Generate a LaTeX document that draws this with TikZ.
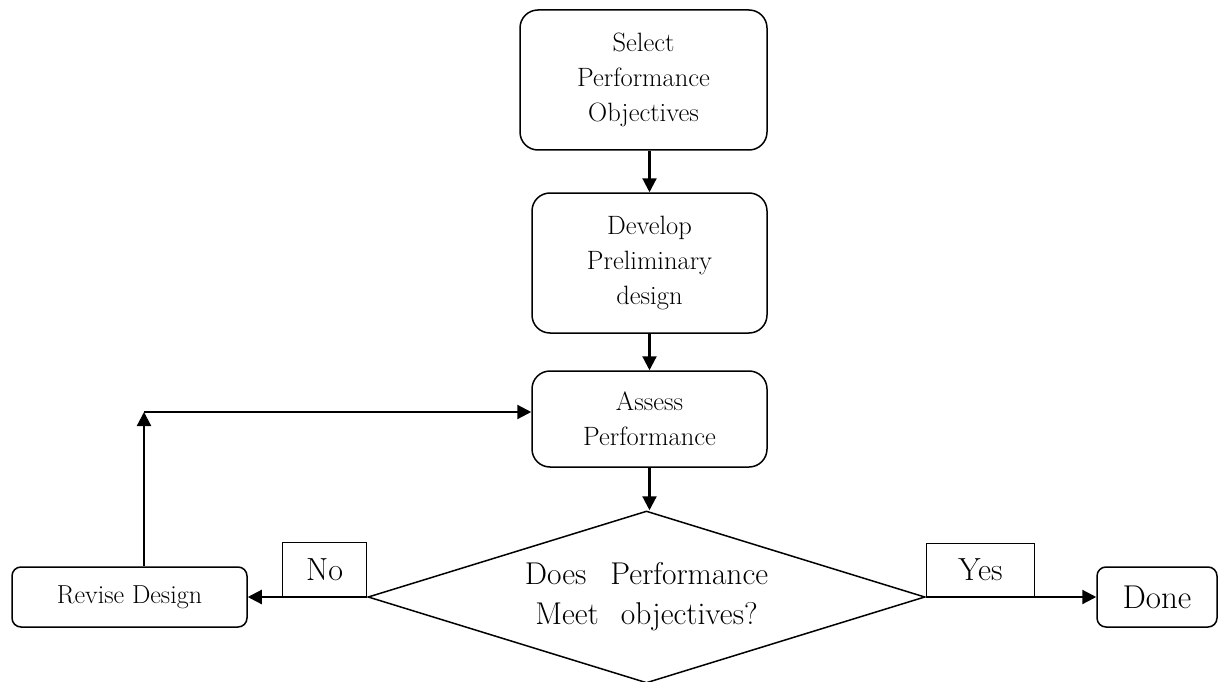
\documentclass[tikz,border=0pt]{standalone}
\usetikzlibrary{shapes.geometric,arrows.meta}
\begin{document}
\begin{tikzpicture}[x=1pt,y=-1pt,
  stepbox/.style={draw, line width=1.5pt, rounded corners=18pt, inner sep=0pt, align=center,
    font=\fontsize{26.5}{35}\selectfont},
  smallbox/.style={draw, line width=1.5pt, rounded corners=9pt, inner sep=0pt, align=center},
  lblbox/.style={draw, line width=1.3pt, inner sep=0pt, font=\fontsize{32}{36}\selectfont},
  decbox/.style={draw, diamond, shape aspect=3.22, line width=1.5pt, inner sep=0pt, align=center,
    minimum width=557pt, minimum height=172pt, font=\fontsize{31.5}{40}\selectfont},
  arr/.style={line width=2.2pt, -{Triangle[length=14pt,width=14pt]}}
]
\useasboundingbox (0,0) rectangle (1218,682);
\node[stepbox, minimum width=247pt, minimum height=140pt] (sel) at (643.5,80) {Select\\Performance\\Objectives};
\node[stepbox, minimum width=235pt, minimum height=140pt] (dev) at (649.5,263) {Develop\\Preliminary\\design};
\node[stepbox, minimum width=235pt, minimum height=96pt] (assess) at (649.5,419) {Assess\\Performance};
\node[decbox] (dec) at (646.5,597) {Does\hspace{24pt}Performance\\Meet\hspace{22pt}objectives?};
\node[smallbox, minimum width=235pt, minimum height=60pt, font=\fontsize{26}{30}\selectfont] (revise) at (129.5,597) {Revise Design};
\node[smallbox, minimum width=120pt, minimum height=60pt, font=\fontsize{33}{36}\selectfont] (done) at (1157,597) {Done};
\node[lblbox, minimum width=84pt, minimum height=54pt, anchor=south east] (no) at (dec.west) {No};
\node[lblbox, minimum width=108pt, minimum height=53pt, anchor=south west] (yes) at (dec.east) {Yes};
\coordinate (corner) at (144,412);
\draw[arr] (dev.north |- sel.south) -- (dev.north);
\draw[arr] (dev.south) -- (assess.north);
\draw[arr] (assess.south) -- (assess.south |- dec.north);
\draw[arr] (dec.west) -- (revise.east);
\draw[arr] (dec.east) -- (done.west);
\draw[arr] (corner |- revise.north) -- (corner);
\draw[arr] (corner) -- (corner -| assess.west);
\end{tikzpicture}
\end{document}
